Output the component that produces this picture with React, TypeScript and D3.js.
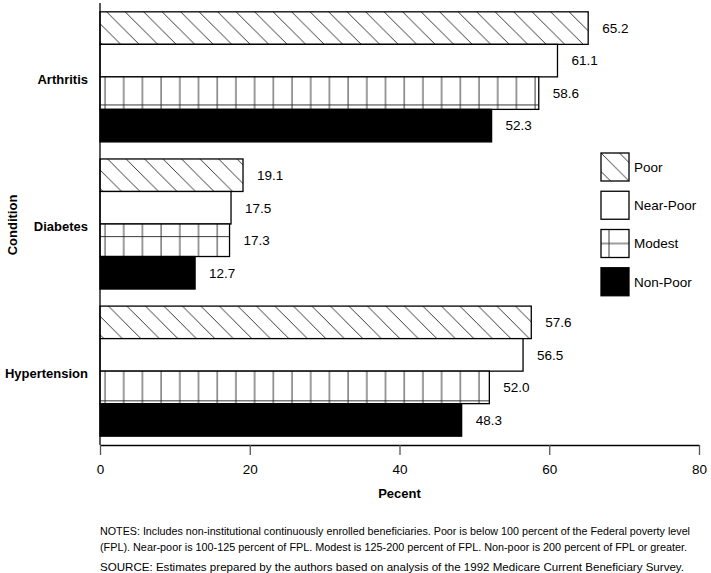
import React, { useEffect, useRef } from "react";
import * as d3 from "d3";

const CONDITIONS = ["Arthritis", "Diabetes", "Hypertension"];
const SERIES = ["Poor", "Near-Poor", "Modest", "Non-Poor"];
const POOR = [65.2, 19.1, 57.6];
const NEAR_POOR = [61.1, 17.5, 56.5];
const MODEST = [58.6, 17.3, 52.0];
const NON_POOR = [52.3, 12.7, 48.3];
const X_TICKS = [0, 20, 40, 60, 80];
const NOTES = [
  "NOTES: Includes non-institutional continuously enrolled beneficiaries. Poor is below 100 percent of the Federal poverty level",
  "(FPL). Near-poor is 100-125 percent of FPL. Modest is 125-200 percent of FPL. Non-poor is 200 percent of FPL or greater.",
];
const SOURCE =
  "SOURCE: Estimates prepared by the authors based on analysis of the 1992 Medicare Current Beneficiary Survey.";

const WIDTH = 711;
const HEIGHT = 573;
const FONT = "'Liberation Sans', Arial, Helvetica, sans-serif";

const App = () => {
  const svgRef = useRef<SVGSVGElement>(null);

  useEffect(() => {
    const svg = d3.select(svgRef.current);
    svg.selectAll("*").remove();

    const valuesBySeries = [POOR, NEAR_POOR, MODEST, NON_POOR];
    const rows = CONDITIONS.map((c, i) => ({
      condition: c,
      bars: SERIES.map((s, j) => ({ series: s, value: valuesBySeries[j][i], ci: i })),
    }));

    const x = d3.scaleLinear().domain([0, 80]).range([100, 699]);
    const y0 = d3
      .scaleBand()
      .domain(CONDITIONS)
      .range([3, 445])
      .paddingInner(0.116)
      .paddingOuter(0.06);
    const y1 = d3.scaleBand().domain(SERIES).range([0, y0.bandwidth()]).padding(0);

    const defs = svg.append("defs");
    const hatch = (id, px, py) => {
      const p = defs
        .append("pattern")
        .attr("id", id)
        .attr("patternUnits", "userSpaceOnUse")
        .attr("x", px)
        .attr("y", py)
        .attr("width", 18.5)
        .attr("height", 18.5);
      p.append("rect").attr("width", 18.5).attr("height", 18.5).attr("fill", "#fff");
      p.append("path")
        .attr("d", "M0,0L18.5,18.5M-5,13.5L5,23.5M13.5,-5L23.5,5")
        .attr("stroke", "#222")
        .attr("stroke-width", 0.9);
    };
    const grid = (id, px, py, w, h, vx) => {
      const p = defs
        .append("pattern")
        .attr("id", id)
        .attr("patternUnits", "userSpaceOnUse")
        .attr("x", px)
        .attr("y", py)
        .attr("width", w)
        .attr("height", h);
      p.append("rect").attr("width", w).attr("height", h).attr("fill", "#fff");
      p.append("line")
        .attr("x1", vx).attr("x2", vx).attr("y1", 0).attr("y2", h)
        .attr("stroke", "#222").attr("stroke-width", 0.9);
      p.append("line")
        .attr("x1", 0).attr("x2", w).attr("y1", h / 2).attr("y2", h / 2)
        .attr("stroke", "#222").attr("stroke-width", 0.9);
    };

    const fillFor = (d) => {
      if (d.series === "Poor") return `url(#hatch-${d.ci})`;
      if (d.series === "Modest") return `url(#grid-${d.ci})`;
      if (d.series === "Non-Poor") return "#000";
      return "#fff";
    };

    rows.forEach((r, i) => {
      const top = y0(r.condition);
      hatch(`hatch-${i}`, 100, top + y1("Poor"));
      grid(`grid-${i}`, 100, top + y1("Modest"), 18.7, y1.bandwidth(), 5);
    });

    const groups = svg
      .selectAll(".group")
      .data(rows)
      .join("g")
      .attr("class", "group")
      .attr("transform", (d) => `translate(0,${y0(d.condition)})`);

    groups
      .selectAll("rect")
      .data((d) => d.bars)
      .join("rect")
      .attr("x", x(0))
      .attr("y", (d) => y1(d.series))
      .attr("width", (d) => x(d.value) - x(0))
      .attr("height", y1.bandwidth())
      .attr("fill", fillFor)
      .attr("stroke", "#000")
      .attr("stroke-width", 1.3);

    groups
      .selectAll(".value")
      .data((d) => d.bars)
      .join("text")
      .attr("class", "value")
      .attr("x", (d) => x(d.value) + 14)
      .attr("y", (d) => y1(d.series) + y1.bandwidth() / 2)
      .attr("dy", "0.36em")
      .attr("font-family", FONT)
      .attr("font-size", 13.5)
      .text((d) => d3.format(".1f")(d.value));

    // category labels
    svg
      .selectAll(".cat")
      .data(CONDITIONS)
      .join("text")
      .attr("class", "cat")
      .attr("x", 88)
      .attr("y", (d) => y0(d) + y0.bandwidth() / 2 + 2)
      .attr("dy", "0.36em")
      .attr("text-anchor", "end")
      .attr("font-family", FONT)
      .attr("font-weight", "bold")
      .attr("font-size", 13)
      .text((d) => d);

    // y axis line
    svg
      .append("line")
      .attr("x1", x(0)).attr("x2", x(0))
      .attr("y1", 3).attr("y2", 445)
      .attr("stroke", "#000").attr("stroke-width", 1.3);

    // x axis
    const xAxis = d3
      .axisBottom(x)
      .tickValues(X_TICKS)
      .tickSize(10)
      .tickSizeOuter(0)
      .tickPadding(9)
      .tickFormat(d3.format("d"));
    const gx = svg.append("g").attr("transform", "translate(0,445)").call(xAxis);
    gx.select(".domain").attr("stroke", "#000").attr("stroke-width", 1.3);
    gx.selectAll(".tick line").attr("stroke", "#555").attr("stroke-width", 1.3);
    gx.selectAll(".tick text")
      .attr("font-family", FONT)
      .attr("font-size", 13.5)
      .attr("fill", "#000");

    svg
      .append("text")
      .attr("x", (x(0) + x(80)) / 2)
      .attr("y", 498)
      .attr("text-anchor", "middle")
      .attr("font-family", FONT)
      .attr("font-weight", "bold")
      .attr("font-size", 13)
      .text("Pecent");

    svg
      .append("text")
      .attr("transform", "translate(16.5,225) rotate(-90)")
      .attr("text-anchor", "middle")
      .attr("font-family", FONT)
      .attr("font-weight", "bold")
      .attr("font-size", 13)
      .text("Condition");

    // legend
    const legendY = d3.scaleBand().domain(SERIES).range([153, 306]).paddingInner(0);
    hatch("hatch-legend", 601, legendY("Poor"));
    grid("grid-legend", 601, legendY("Modest"), 28, 28, 8);
    const legendFill = (s) =>
      s === "Poor" ? "url(#hatch-legend)" : s === "Modest" ? "url(#grid-legend)" : s === "Non-Poor" ? "#000" : "#fff";
    const legend = svg
      .selectAll(".legend")
      .data(SERIES)
      .join("g")
      .attr("class", "legend");
    legend
      .append("rect")
      .attr("x", 601)
      .attr("y", (d) => legendY(d))
      .attr("width", 28)
      .attr("height", 28)
      .attr("fill", legendFill)
      .attr("stroke", "#000")
      .attr("stroke-width", 1.3);
    legend
      .append("text")
      .attr("x", 634)
      .attr("y", (d) => legendY(d) + 14)
      .attr("dy", "0.36em")
      .attr("font-family", FONT)
      .attr("font-size", 13.5)
      .text((d) => d);

    // notes
    const noteLines = [
      { text: NOTES[0], y: 535, len: 590 },
      { text: NOTES[1], y: 551, len: 587 },
      { text: SOURCE, y: 571, len: 584 },
    ];
    svg
      .selectAll(".note")
      .data(noteLines)
      .join("text")
      .attr("class", "note")
      .attr("x", 100)
      .attr("y", (d) => d.y)
      .attr("font-family", FONT)
      .attr("font-size", 10.5)
      .attr("textLength", (d) => d.len)
      .attr("lengthAdjust", "spacingAndGlyphs")
      .text((d) => d.text);
  }, []);

  return (
    <svg
      ref={svgRef}
      width={WIDTH}
      height={HEIGHT}
      style={{ position: "absolute", left: 0, top: 0, background: "#fff" }}
    ></svg>
  );
};

export default App;
